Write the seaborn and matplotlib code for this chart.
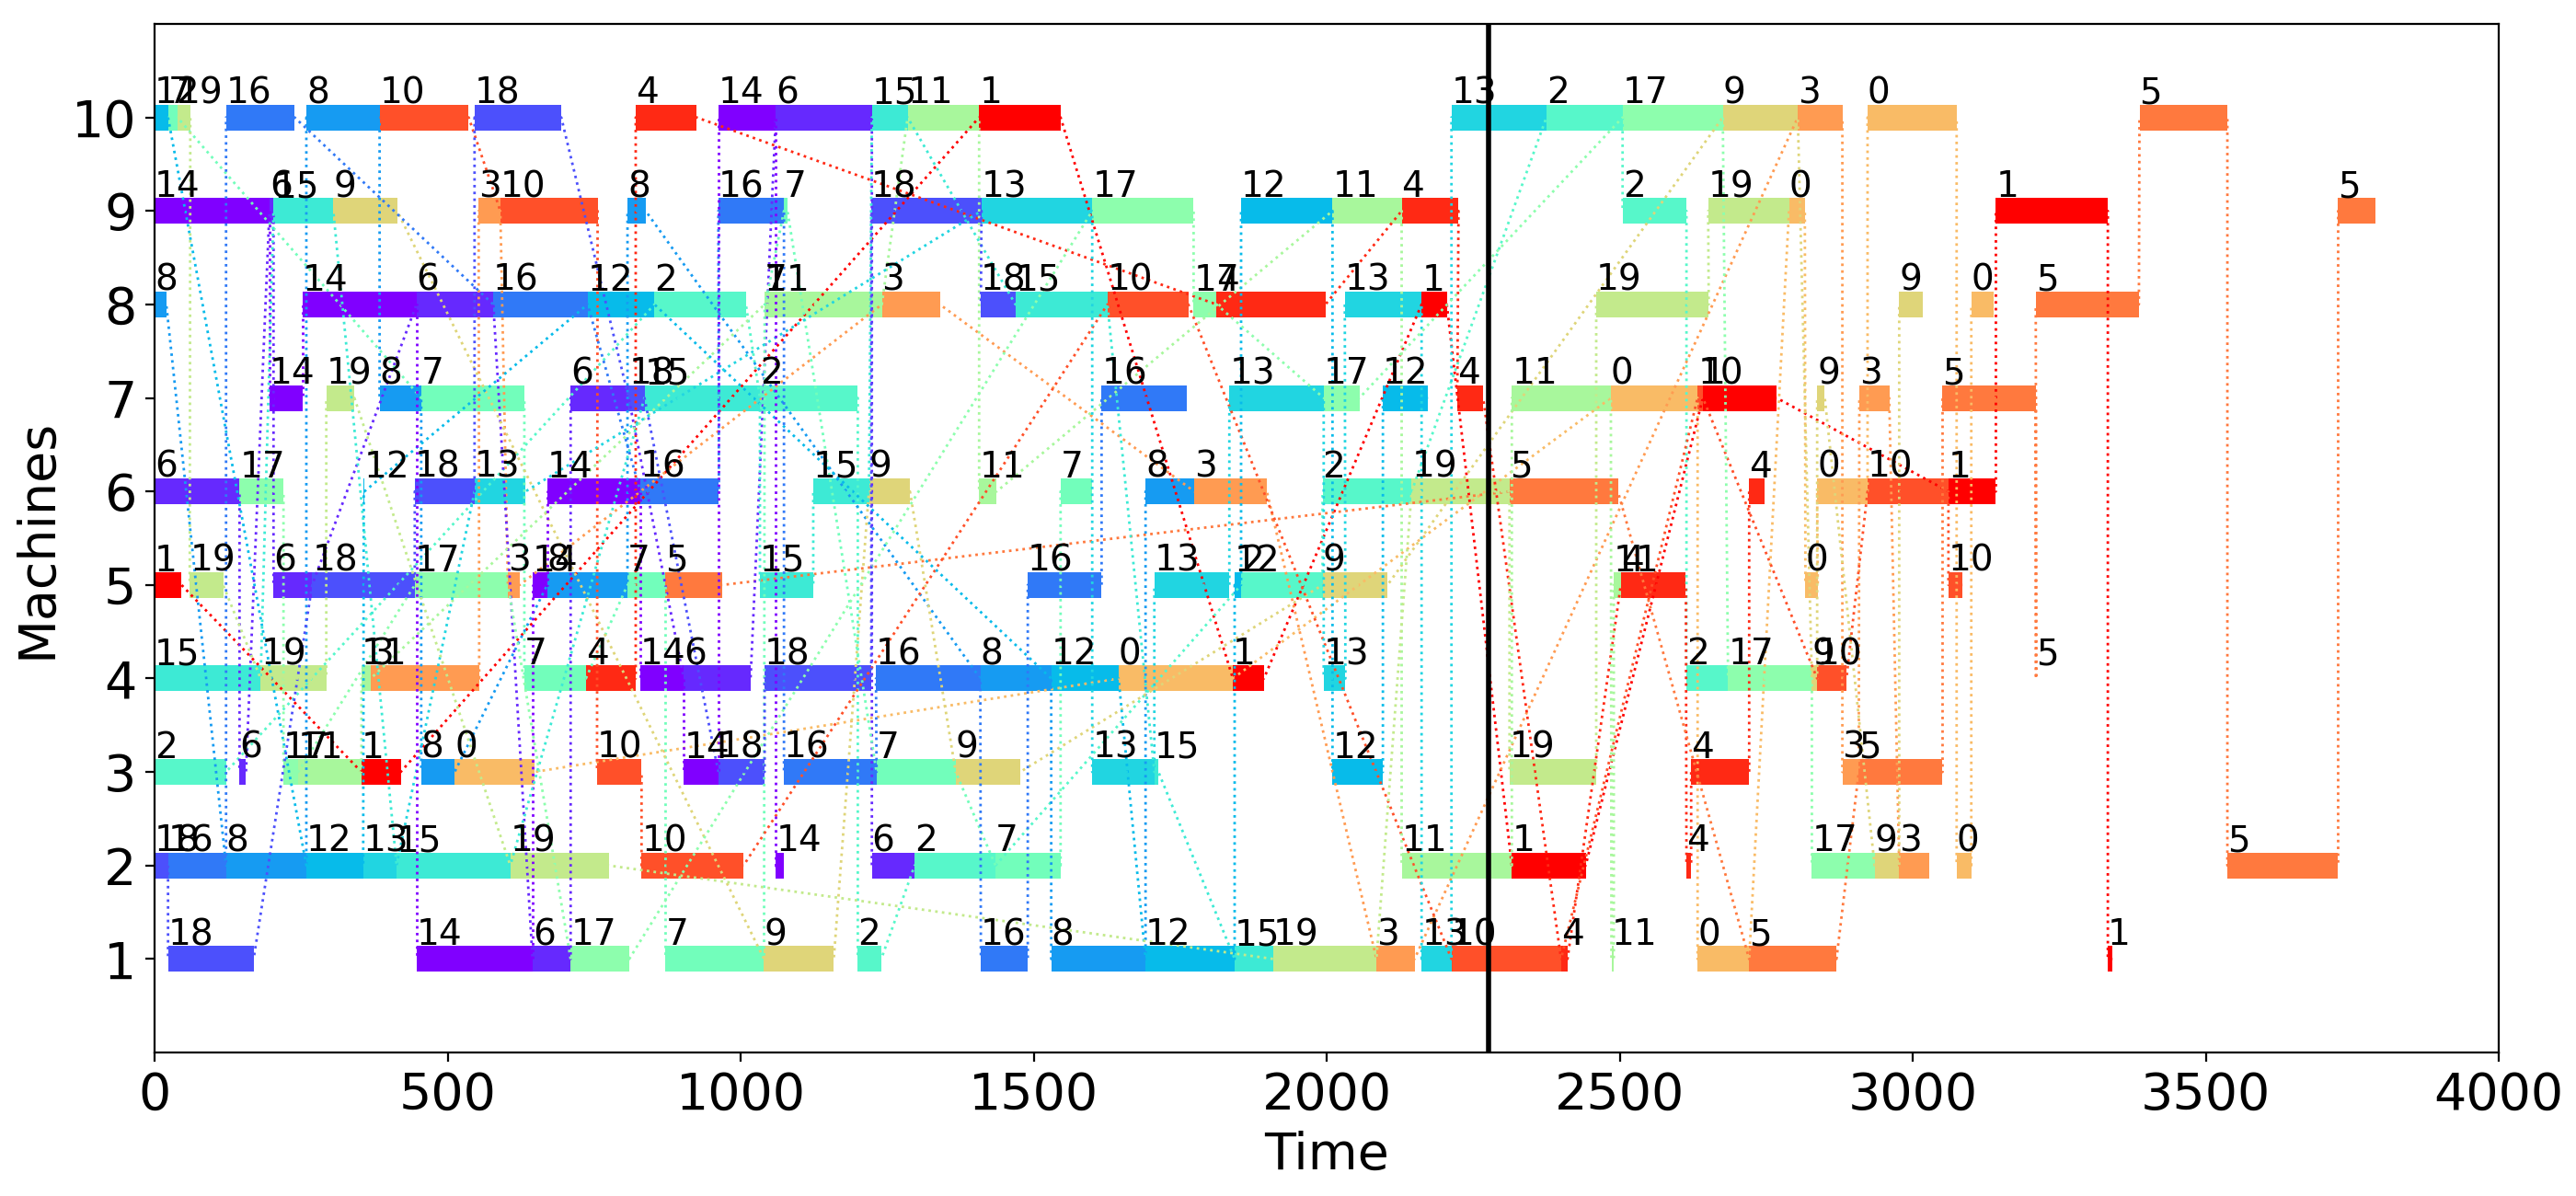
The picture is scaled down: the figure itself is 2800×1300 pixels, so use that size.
"""
Job-shop schedule drawn as a Gantt chart
Machines on the y axis, every job keeps one colour and a dotted route
"""

import numpy as np
import pandas as pd
import matplotlib
matplotlib.use("Agg")
import matplotlib.pyplot as plt
import seaborn as sns

sns.set_style("ticks", {"axes.edgecolor": "black", "xtick.color": "black", "ytick.color": "black",
                        "text.color": "black", "axes.labelcolor": "black"})
plt.rcParams["font.family"] = ["DejaVu Sans"]

# colour order of the jobs along the rainbow map
job_order = [14, 6, 18, 16, 8, 12, 13, 15, 2, 7, 17, 11, 19, 9, 0, 3, 5, 10, 4, 1]

# ----------------------------------------------------------------------
# schedule, read off machine by machine
# ----------------------------------------------------------------------
m10_jobs = [12, 7, 19, 16, 8, 10, 18, 4, 14, 6, 15, 11, 1, 13, 2, 17, 9, 3, 0, 5]
m10_start = [0, 23, 39, 122, 259, 384, 546, 821, 962, 1060, 1224, 1285, 1407, 2213, 2375, 2505, 2676, 2804, 2923, 3387]
m10_end = [23, 39, 61, 239, 384, 536, 694, 925, 1060, 1224, 1285, 1407, 1546, 2375, 2505, 2676, 2804, 2880, 3075, 3537]

m9_jobs = [14, 6, 15, 9, 3, 10, 8, 16, 7, 18, 13, 17, 12, 11, 4, 2, 19, 0, 1, 5]
m9_start = [0, 196, 203, 305, 553, 590, 807, 962, 1074, 1223, 1411, 1600, 1854, 2010, 2128, 2505, 2651, 2789, 3142, 3726]
m9_end = [196, 203, 305, 414, 590, 756, 838, 1074, 1080, 1411, 1600, 1773, 2010, 2128, 2225, 2614, 2789, 2816, 3333, 3790]

m8_jobs = [8, 14, 6, 16, 12, 2, 7, 11, 3, 18, 15, 10, 17, 4, 13, 1, 19, 9, 0, 5]
m8_start = [0, 252, 447, 578, 739, 853, 1041, 1041, 1241, 1410, 1469, 1626, 1773, 1812, 2031, 2162, 2460, 2977, 3100, 3210]
m8_end = [20, 447, 578, 739, 853, 1009, 1042, 1241, 1340, 1469, 1626, 1764, 1812, 1998, 2162, 2205, 2652, 3017, 3138, 3386]

m7_jobs = [14, 19, 8, 7, 6, 18, 15, 2, 16, 13, 17, 12, 4, 11, 0, 10, 1, 9, 3, 5]
m7_start = [196, 293, 384, 455, 710, 809, 836, 1033, 1616, 1834, 1995, 2096, 2223, 2316, 2485, 2633, 2642, 2837, 2909, 3051]
m7_end = [252, 341, 455, 631, 809, 836, 1033, 1200, 1761, 1995, 2056, 2173, 2267, 2485, 2633, 2642, 2768, 2850, 2960, 3210]

m6_jobs = [6, 17, 12, 18, 13, 14, 16, 15, 9, 11, 7, 8, 3, 2, 19, 5, 4, 0, 10, 1]
m6_start = [0, 145, 357, 444, 546, 670, 829, 1124, 1219, 1407, 1546, 1691, 1774, 1993, 2145, 2312, 2721, 2837, 2923, 3061]
m6_end = [145, 220, 358, 546, 633, 829, 963, 1219, 1289, 1437, 1600, 1774, 1898, 2145, 2312, 2497, 2748, 2923, 3061, 3142]

m5_jobs = [1, 19, 6, 18, 17, 3, 14, 8, 7, 5, 15, 16, 13, 12, 2, 9, 11, 4, 0, 10]
m5_start = [0, 60, 203, 269, 444, 603, 645, 670, 807, 872, 1033, 1490, 1706, 1843, 1854, 1993, 2490, 2502, 2817, 3061]
m5_end = [46, 117, 269, 444, 603, 623, 670, 807, 872, 969, 1124, 1616, 1834, 1854, 1993, 2104, 2502, 2613, 2838, 3085]

m4_jobs = [15, 19, 11, 3, 7, 4, 14, 6, 18, 16, 8, 12, 0, 1, 13, 2, 17, 9, 10, 5]
m4_start = [0, 181, 353, 369, 631, 736, 829, 903, 1041, 1231, 1409, 1530, 1645, 1840, 1995, 2614, 2685, 2828, 2837, 3210]
m4_end = [181, 293, 369, 554, 736, 821, 903, 1017, 1223, 1409, 1530, 1645, 1840, 1893, 2032, 2685, 2828, 2837, 2887, 3211]

m3_jobs = [2, 6, 17, 11, 1, 8, 0, 10, 14, 18, 16, 7, 9, 13, 15, 12, 19, 4, 3, 5]
m3_start = [0, 145, 220, 245, 353, 455, 512, 755, 903, 962, 1074, 1232, 1367, 1600, 1706, 2010, 2312, 2622, 2880, 2908]
m3_end = [122, 156, 245, 353, 420, 512, 648, 831, 962, 1041, 1232, 1367, 1477, 1706, 1713, 2096, 2460, 2721, 2908, 3051]

m2_jobs = [18, 16, 8, 12, 13, 15, 19, 10, 14, 6, 2, 7, 11, 1, 4, 17, 9, 3, 0, 5]
m2_start = [0, 23, 122, 259, 356, 413, 607, 831, 1060, 1224, 1297, 1435, 2128, 2316, 2614, 2828, 2935, 2977, 3075, 3537]
m2_end = [23, 122, 259, 356, 413, 607, 775, 1005, 1074, 1297, 1435, 1546, 2316, 2442, 2622, 2935, 2977, 3028, 3100, 3726]

m1_jobs = [18, 14, 6, 17, 7, 9, 2, 16, 8, 12, 15, 19, 3, 13, 10, 4, 11, 0, 5, 1]
m1_start = [23, 447, 645, 710, 872, 1040, 1200, 1410, 1530, 1691, 1843, 1909, 2085, 2162, 2213, 2400, 2486, 2633, 2721, 3333]
m1_end = [169, 645, 710, 810, 1040, 1159, 1240, 1490, 1691, 1843, 1909, 2085, 2150, 2213, 2400, 2411, 2490, 2721, 2870, 3341]

marker_time = 2277
x_ticks = [0, 500, 1000, 1500, 2000, 2500, 3000, 3500, 4000]
y_ticks = [1, 2, 3, 4, 5, 6, 7, 8, 9, 10]

machines = {
    1: (m1_jobs, m1_start, m1_end), 2: (m2_jobs, m2_start, m2_end),
    3: (m3_jobs, m3_start, m3_end), 4: (m4_jobs, m4_start, m4_end),
    5: (m5_jobs, m5_start, m5_end), 6: (m6_jobs, m6_start, m6_end),
    7: (m7_jobs, m7_start, m7_end), 8: (m8_jobs, m8_start, m8_end),
    9: (m9_jobs, m9_start, m9_end), 10: (m10_jobs, m10_start, m10_end),
}

ops = pd.concat(
    [pd.DataFrame({"machine": m, "job": j, "start": s, "end": e}) for m, (j, s, e) in machines.items()],
    ignore_index=True,
)

# one colour per job
cmap = plt.get_cmap("rainbow")
colors = sns.color_palette(list(cmap(np.linspace(0, 1, len(job_order)))))
palette = dict(zip(job_order, colors))

# route of each job: enter and leave every machine, in time order
ordered = ops.sort_values(["job", "start", "end"]).reset_index(drop=True)
ordered["op"] = ordered.index
route = ordered.melt(id_vars=["job", "machine", "op"], value_vars=["start", "end"],
                     var_name="edge", value_name="time")
route["edge"] = (route["edge"] == "end").astype(int)
route = route.sort_values(["op", "edge"]).reset_index(drop=True)

# ----------------------------------------------------------------------
# figure
# ----------------------------------------------------------------------
fig, ax = plt.subplots(figsize=(14, 6.5), dpi=200)
fig.subplots_adjust(left=0.06, right=0.97, top=0.98, bottom=0.12)

ax.barh(ops["machine"], ops["end"] - ops["start"], left=ops["start"], height=0.275,
        color=[palette[j] for j in ops["job"]], linewidth=0)

sns.lineplot(data=route, x="time", y="machine", hue="job", palette=palette, units="job",
             estimator=None, sort=False, linestyle=":", linewidth=1, legend=False, ax=ax)

for row in ops.itertuples():
    ax.text(row.start, row.machine + 0.15, str(row.job), fontsize=14, color="black")

ax.axvline(marker_time, color="black", linewidth=2)

ax.set_xlim(0, 4000)
ax.set_ylim(0, 11)
ax.set_xticks(x_ticks)
ax.set_yticks(y_ticks)
ax.tick_params(axis="both", labelsize=20)
ax.set_xlabel("Time", fontsize=20)
ax.set_ylabel("Machines", fontsize=20)

fig.savefig("out.png", dpi=200)
plt.close(fig)
